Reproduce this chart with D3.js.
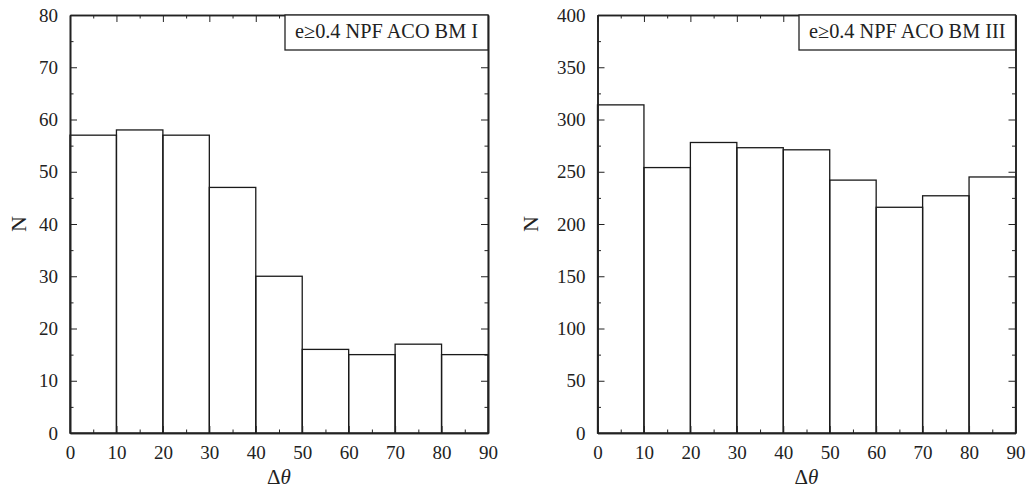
<!DOCTYPE html>
<html>
<head>
<meta charset="utf-8">
<title>Delta theta histograms</title>
<script src="https://d3js.org/d3.v7.min.js"></script>
<style>
  body { margin: 0; background: #fff; }
  svg { display: block; font-family: "Liberation Serif", "Times New Roman", serif; }
  .axis path, .axis line { stroke: #222; }
  .axis text { fill: #222; font-size: 19px; font-family: "Liberation Serif", "Times New Roman", serif; }
</style>
</head>
<body>
<div id="chart"></div>
<script>
// bins (delta theta) and counts
const binStarts = [0, 10, 20, 30, 40, 50, 60, 70, 80];
const binWidth = 10;
const countsBM1 = [57, 58, 57, 47, 30, 16, 15, 17, 15];
const countsBM3 = [314, 254, 278, 273, 271, 242, 216, 227, 245];
const xTicks = [0, 10, 20, 30, 40, 50, 60, 70, 80, 90];
const xMinor = [5, 15, 25, 35, 45, 55, 65, 75, 85];
const yTicksBM1 = [0, 10, 20, 30, 40, 50, 60, 70, 80];
const yMinorBM1 = [5, 15, 25, 35, 45, 55, 65, 75];
const yTicksBM3 = [0, 50, 100, 150, 200, 250, 300, 350, 400];
const yMinorBM3 = [25, 75, 125, 175, 225, 275, 325, 375];
const labelBM1 = "e\u22650.4 NPF ACO BM I";
const labelBM3 = "e\u22650.4 NPF ACO BM III";

const W = 1031, H = 490;
const svg = d3.select("#chart").append("svg")
    .attr("width", W)
    .attr("height", H);

function panel(left, right, counts, yMax, yTicks, yMinor, label, nOffset) {
    const top = 15, bottom = 433;
    const x = d3.scaleLinear().domain([0, 90]).range([left, right]);
    const y = d3.scaleLinear().domain([0, yMax]).range([bottom, top]);
    const g = svg.append("g");

    //bars
    g.selectAll("rect.bar")
        .data(binStarts)
        .enter()
        .append("rect")
        .attr("class", "bar")
        .attr("x", d => x(d))
        .attr("width", d => x(d + binWidth) - x(d))
        .attr("y", (d, i) => y(counts[i]))
        .attr("height", (d, i) => y(0) - y(counts[i]))
        .attr("fill", "none")
        .attr("stroke", "#1a1a1a")
        .attr("stroke-width", 1.3);

    //axes, ticks pointing inward
    const major = 7, minor = 3.5;
    g.append("g").attr("class", "axis")
        .attr("transform", "translate(0," + bottom + ")")
        .call(d3.axisBottom(x).tickValues(xTicks).tickSize(-major).tickSizeOuter(0).tickPadding(13));
    g.append("g").attr("class", "axis")
        .attr("transform", "translate(0," + bottom + ")")
        .call(d3.axisBottom(x).tickValues(xMinor).tickSize(-minor).tickSizeOuter(0).tickFormat(""));
    g.append("g").attr("class", "axis")
        .attr("transform", "translate(0," + top + ")")
        .call(d3.axisTop(x).tickValues(xTicks).tickSize(-major).tickSizeOuter(0).tickFormat(""));
    g.append("g").attr("class", "axis")
        .attr("transform", "translate(0," + top + ")")
        .call(d3.axisTop(x).tickValues(xMinor).tickSize(-minor).tickSizeOuter(0).tickFormat(""));
    g.append("g").attr("class", "axis")
        .attr("transform", "translate(" + left + ",0)")
        .call(d3.axisLeft(y).tickValues(yTicks).tickSize(-major).tickSizeOuter(0).tickPadding(12));
    g.append("g").attr("class", "axis")
        .attr("transform", "translate(" + left + ",0)")
        .call(d3.axisLeft(y).tickValues(yMinor).tickSize(-minor).tickSizeOuter(0).tickFormat(""));
    g.append("g").attr("class", "axis")
        .attr("transform", "translate(" + right + ",0)")
        .call(d3.axisRight(y).tickValues(yTicks).tickSize(-major).tickSizeOuter(0).tickFormat(""));
    g.append("g").attr("class", "axis")
        .attr("transform", "translate(" + right + ",0)")
        .call(d3.axisRight(y).tickValues(yMinor).tickSize(-minor).tickSizeOuter(0).tickFormat(""));
    g.selectAll(".axis path.domain").attr("stroke-width", 1.6);

    //axis labels
    const xl = g.append("text")
        .attr("x", (left + right) / 2)
        .attr("y", 484)
        .attr("text-anchor", "middle")
        .style("font-size", "21px")
        .attr("fill", "#222");
    xl.append("tspan").text("\u0394");
    xl.append("tspan").style("font-style", "italic").text("\u03b8");

    g.append("text")
        .attr("transform", "translate(" + (left - nOffset) + "," + ((top + bottom) / 2) + ") rotate(-90)")
        .attr("text-anchor", "middle")
        .style("font-size", "22px")
        .attr("fill", "#222")
        .text("N");

    //legend box
    const lt = g.append("text")
        .attr("y", 38)
        .attr("text-anchor", "end")
        .attr("x", right - 10)
        .style("font-size", "20.3px")
        .attr("fill", "#222")
        .text(label);
    const tw = lt.node().getComputedTextLength();
    g.insert("rect", () => lt.node())
        .attr("x", right - tw - 20)
        .attr("y", top)
        .attr("width", tw + 20)
        .attr("height", 35)
        .attr("fill", "#fff")
        .attr("stroke", "#222")
        .attr("stroke-width", 1.3);
}

panel(70, 488, countsBM1, 80, yTicksBM1, yMinorBM1, labelBM1, 44);
panel(597.5, 1015.5, countsBM3, 400, yTicksBM3, yMinorBM3, labelBM3, 60);
</script>
</body>
</html>
